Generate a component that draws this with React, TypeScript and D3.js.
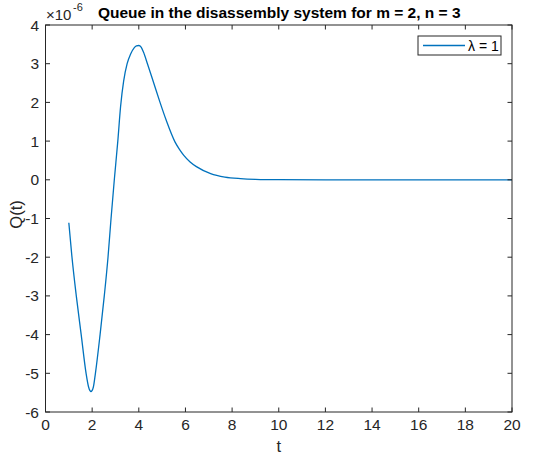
import React from "react";
import * as d3 from "d3";

const tValues = [1.0, 1.13, 1.32, 1.53, 1.74, 1.85, 1.95, 2.05, 2.14, 2.34, 2.52, 2.68, 2.81, 2.95, 3.1, 3.22, 3.35, 3.5, 3.65, 3.8, 3.9, 4.0, 4.1, 4.2, 4.37, 4.64, 4.91, 5.18, 5.55, 5.75, 5.93, 6.2, 6.47, 7.08, 7.69, 8.36, 9.0, 10.0, 12.0, 14.0, 16.0, 18.0, 20.0];
const qValues = [-1.11, -1.97, -3.0, -4.0, -5.0, -5.36, -5.47, -5.36, -5.0, -4.0, -3.0, -2.0, -1.0, 0.0, 1.0, 1.9, 2.55, 3.0, 3.25, 3.41, 3.46, 3.47, 3.43, 3.3, 3.0, 2.5, 2.0, 1.53, 0.98, 0.78, 0.63, 0.46, 0.34, 0.16, 0.07, 0.03, 0.012, 0.003, 0, 0, 0, 0, 0];
const xTicks = [0, 2, 4, 6, 8, 10, 12, 14, 16, 18, 20];
const yTicks = [-6, -5, -4, -3, -2, -1, 0, 1, 2, 3, 4];
const seriesName = "λ = 1";
const titleText = "Queue in the disassembly system for m = 2, n = 3";

const W = 550;
const H = 461;
const m = { left: 45.5, right: 512, top: 25, bottom: 412 };
const FONT = "'Liberation Sans', Arial, Helvetica, sans-serif";
const AX = "#262626";

export default function App() {
  const x = d3.scaleLinear().domain([0, 20]).range([m.left, m.right]);
  const y = d3.scaleLinear().domain([-6, 4]).range([m.bottom, m.top]);
  const data = tValues.map((t, i) => [t, qValues[i]] as [number, number]);
  const line = d3
    .line<[number, number]>()
    .x((d) => x(d[0]))
    .y((d) => y(d[1]))
    .curve(d3.curveMonotoneX);
  const tl = 4.5;
  return (
    <div style={{ position: "fixed", left: 0, top: 0 }}>
      <svg width={W} height={H} style={{ display: "block", background: "#fff" }} fontFamily={FONT}>
        <rect x={0} y={0} width={W} height={H} fill="#fff" />
        <path d={line(data) || ""} fill="none" stroke="#0072BD" strokeWidth={1.3} />
        <rect x={m.left} y={m.top} width={m.right - m.left} height={m.bottom - m.top} fill="none" stroke={AX} strokeWidth={1} />
        {xTicks.map((t) => (
          <g key={"x" + t}>
            <line x1={x(t)} x2={x(t)} y1={m.bottom} y2={m.bottom - tl} stroke={AX} />
            <line x1={x(t)} x2={x(t)} y1={m.top} y2={m.top + tl} stroke={AX} />
            <text x={x(t)} y={m.bottom + 18} textAnchor="middle" fontSize={15.5} fill={AX}>
              {t}
            </text>
          </g>
        ))}
        {yTicks.map((v) => (
          <g key={"y" + v}>
            <line x1={m.left} x2={m.left + tl} y1={y(v)} y2={y(v)} stroke={AX} />
            <line x1={m.right} x2={m.right - tl} y1={y(v)} y2={y(v)} stroke={AX} />
            <text x={m.left - 6.5} y={y(v) + 5.5} textAnchor="end" fontSize={15.5} fill={AX}>
              {v}
            </text>
          </g>
        ))}
        <text x={46} y={20} fontSize={15} fill={AX}>
          ×10
        </text>
        <text x={73} y={11} fontSize={11} fill={AX}>
          -6
        </text>
        <text x={(m.left + m.right) / 2 + 0.5} y={18} textAnchor="middle" fontSize={15.5} fontWeight="bold" fill="#000">
          {titleText}
        </text>
        <text x={(m.left + m.right) / 2} y={452} textAnchor="middle" fontSize={16.5} fill={AX}>
          t
        </text>
        <text transform={`translate(22, ${(m.top + m.bottom) / 2 - 4}) rotate(-90)`} textAnchor="middle" fontSize={16.5} fill={AX}>
          Q(t)
        </text>
        <rect x={418} y={36} width={83} height={19} fill="#fff" stroke={AX} strokeWidth={1} />
        <line x1={423} x2={465} y1={45.5} y2={45.5} stroke="#0072BD" strokeWidth={1.3} />
        <text x={468} y={51} fontSize={14} fill="#000">
          {seriesName}
        </text>
      </svg>
    </div>
  );
}
